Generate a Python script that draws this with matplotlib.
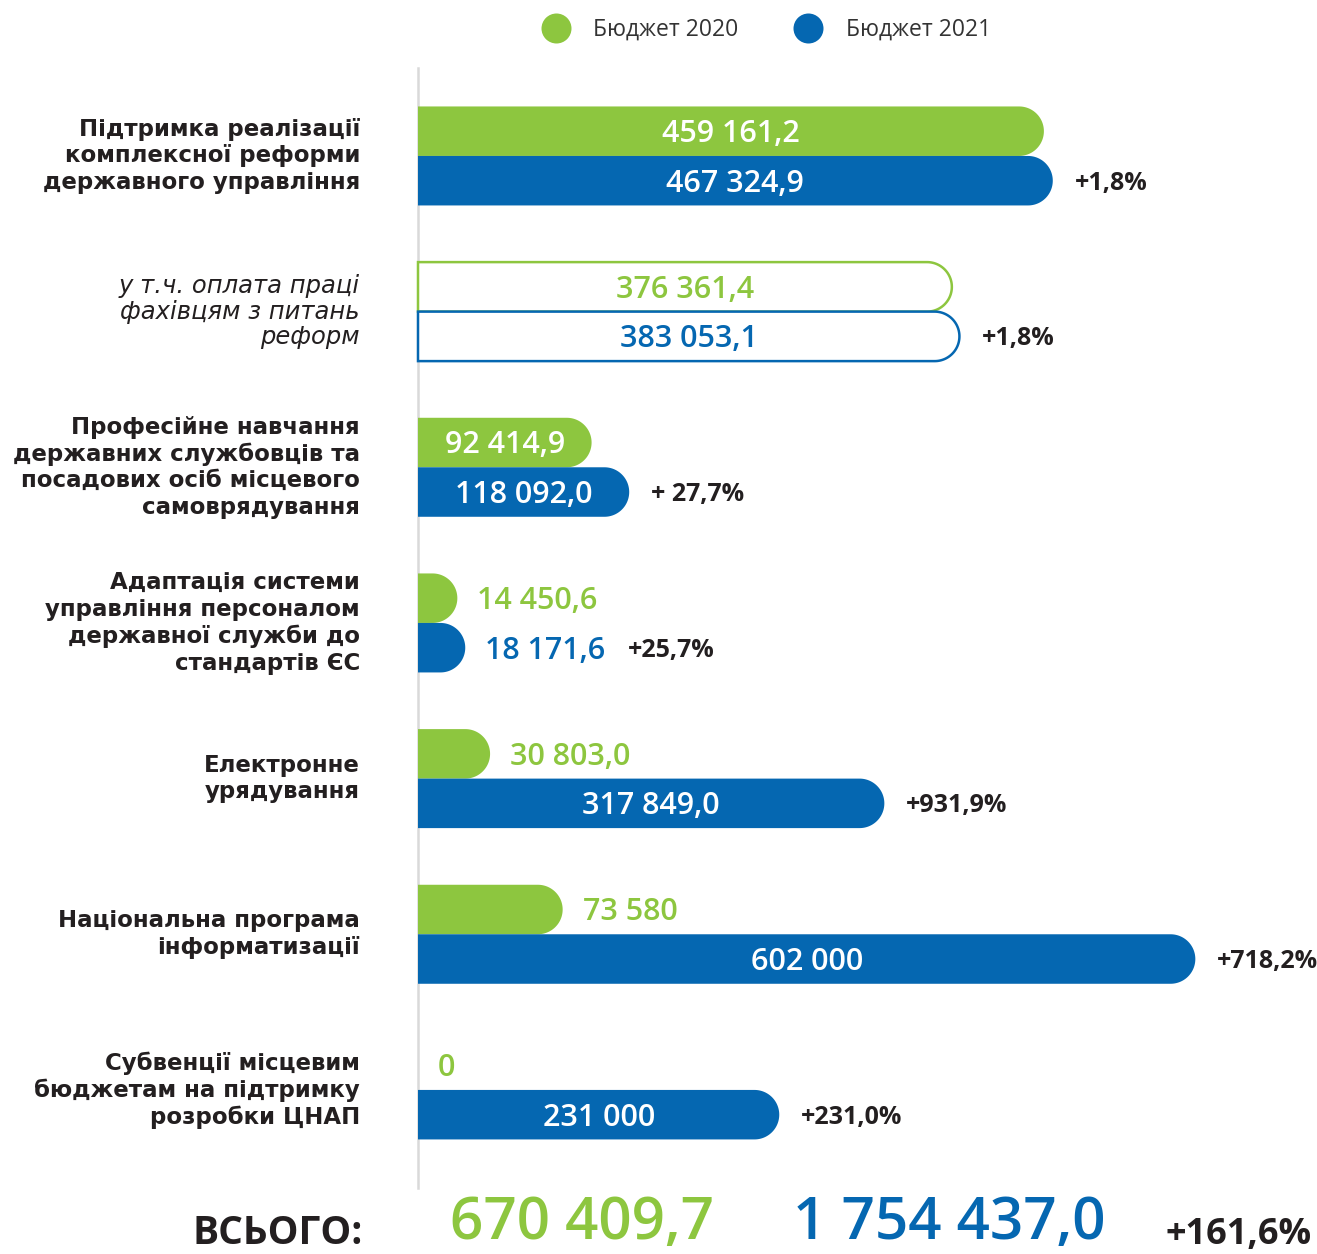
import matplotlib

matplotlib.use("Agg")
import matplotlib.pyplot as plt
import numpy as np
from matplotlib import transforms
from matplotlib.lines import Line2D
from matplotlib.patches import Polygon

GREEN = "#8DC63F"
BLUE = "#0567B1"
INK = "#231F20"
RULE = "#D9D9D9"

CATEGORIES = [
    "Підтримка реалізації\nкомплексної реформи\nдержавного управління",
    "у т.ч. оплата праці\nфахівцям з питань\nреформ",
    "Професійне навчання\nдержавних службовців та\nпосадових осіб місцевого\nсамоврядування",
    "Адаптація системи\nуправління персоналом\nдержавної служби до\nстандартів ЄС",
    "Електронне\nурядування",
    "Національна програма\nінформатизації",
    "Субвенції місцевим\nбюджетам на підтримку\nрозробки ЦНАП",
]
BUDGET_2020 = [459161.2, 376361.4, 92414.9, 14450.6, 30803.0, 73580, 0]
BUDGET_2021 = [467324.9, 383053.1, 118092.0, 18171.6, 317849.0, 602000, 231000]
DECIMALS = [1, 1, 1, 1, 1, 0, 0]
CHANGE = ["+1,8%", "+1,8%", "+ 27,7%", "+25,7%", "+931,9%", "+718,2%", "+231,0%"]
SUBITEM = [False, True, False, False, False, False, False]
SERIES = ["Бюджет 2020", "Бюджет 2021"]
TOTAL_2020 = 670409.7
TOTAL_2021 = 1754437.0
TOTAL_CHANGE = "+161,6%"

W, H = 1317, 1254
NUM_FONT = "Open Sans"
LABEL_FONT = "DejaVu Sans"
BAR_H = 0.318
INSIDE_MIN = 80000  # shorter bars get their value printed outside


def fmt(v, dec):
    return f"{v:,.{dec}f}".replace(",", " ").replace(".", ",")


def fwd(x):
    return np.sign(x) * np.abs(x) ** 0.8


def inv(x):
    return np.sign(x) * np.abs(x) ** 1.25


fig = plt.figure(figsize=(W / 100, H / 100), dpi=100)
ax = fig.add_axes([418 / W, 1 - 1188 / H, 899 / W, 1120 / H])
ax.set_xscale("function", functions=(fwd, inv))
ax.set_xlim(0, 722000)
ax.set_ylim(6.63, -0.565)
for side in ["top", "right", "bottom"]:
    ax.spines[side].set_visible(False)
ax.spines["left"].set_color(RULE)
ax.spines["left"].set_linewidth(1.8)
ax.set_xticks([])
ax.set_yticks([])
ax.patch.set_alpha(0)

to_fig = fig.transFigure.inverted()


def pill(y, v, color, filled):
    (x0, ya), (x1, yb) = ax.transData.transform([(0, y - BAR_H / 2), (v, y + BAR_H / 2)])
    lo, hi = min(ya, yb), max(ya, yb)
    r = (hi - lo) / 2
    xr = max(x1 - r, x0)
    t = np.linspace(-np.pi / 2, np.pi / 2, 60)
    arc = np.column_stack([xr + r * np.cos(t), lo + r + r * np.sin(t)])
    pts = to_fig.transform(np.vstack([[x0, lo], arc, [x0, hi]]))
    if filled:
        p = Polygon(pts, closed=True, facecolor=color, edgecolor="none", transform=fig.transFigure, zorder=2)
    else:
        p = Polygon(pts, closed=True, facecolor="white", edgecolor=color, linewidth=1.8,
                    transform=fig.transFigure, zorder=2)
    fig.add_artist(p)
    return x0, x1, lo + r


def num_text(x, yc, s, color, size, ha):
    # baseline placed so the digits sit centred on yc
    base = yc - 0.357 * size * 100 / 72
    fx, fy = to_fig.transform((x, base))
    return fig.text(fx, fy, s, color=color, fontsize=size, ha=ha, va="baseline",
                    family=NUM_FONT, weight="semibold", zorder=3)


renderer = fig.canvas.get_renderer()
label_tr = transforms.blended_transform_factory(fig.transFigure, ax.transData)

for i, cat in enumerate(CATEGORIES):
    if SUBITEM[i]:
        ax.text(360 / W, i, cat, transform=label_tr, ha="right", va="center", multialignment="right",
                fontsize=17.5, family=LABEL_FONT, linespacing=1.08, color=INK, style="italic")
    else:
        ax.text(360 / W, i, cat, transform=label_tr, ha="right", va="center", multialignment="right",
                fontsize=16.5, family=LABEL_FONT, linespacing=1.2, color=INK, weight="bold")

    right = 0
    for j, (vals, color) in enumerate([(BUDGET_2020, GREEN), (BUDGET_2021, BLUE)]):
        v = vals[i]
        y = i - BAR_H / 2 if j == 0 else i + BAR_H / 2
        filled = not SUBITEM[i]
        if v > 0:
            x0, x1, yc = pill(y, v, color, filled)
        else:
            x0, yc = ax.transData.transform((0, y))
            x1 = x0
        label = fmt(v, DECIMALS[i])
        if v >= INSIDE_MIN:
            t = num_text((x0 + x1) / 2, yc, label, "white" if filled else color, 22, "center")
            end = x1
        else:
            t = num_text(x1 + 20, yc, label, color, 22, "left")
            end = t.get_window_extent(renderer).x1
        if j == 1:
            right = end
            blue_y = yc

    fx, fy = to_fig.transform((right + 22, blue_y - 0.357 * 18 * 100 / 72))
    fig.text(fx, fy, CHANGE[i], fontsize=18, family=NUM_FONT, weight="bold", color=INK,
             ha="left", va="baseline")

handles = [Line2D([], [], marker="o", ls="none", markersize=21.6, markerfacecolor=c, markeredgewidth=0)
           for c in (GREEN, BLUE)]
fig.legend(handles, SERIES, loc="center", bbox_to_anchor=(766 / W, 1 - 30 / H), ncol=2, frameon=False,
           prop={"family": NUM_FONT, "size": 16.5}, labelcolor="#333333", handlelength=1.3,
           handletextpad=1.0, columnspacing=2.4, borderpad=0, borderaxespad=0)

fig.text(363 / W, 0.001, "ВСЬОГО:", ha="right", va="bottom", fontsize=28, family=NUM_FONT,
         weight="bold", color=INK)
fig.text(450 / W, 0.001, fmt(TOTAL_2020, 1), ha="left", va="bottom", fontsize=42, family=NUM_FONT,
         weight="semibold", color=GREEN)
fig.text(793 / W, 0.001, fmt(TOTAL_2021, 1), ha="left", va="bottom", fontsize=42, family=NUM_FONT,
         weight="semibold", color=BLUE)
fig.text(1312 / W, 0.001, TOTAL_CHANGE, ha="right", va="bottom", fontsize=26, family=NUM_FONT,
         weight="bold", color=INK)

fig.savefig("out.png", dpi=100, facecolor="white")
